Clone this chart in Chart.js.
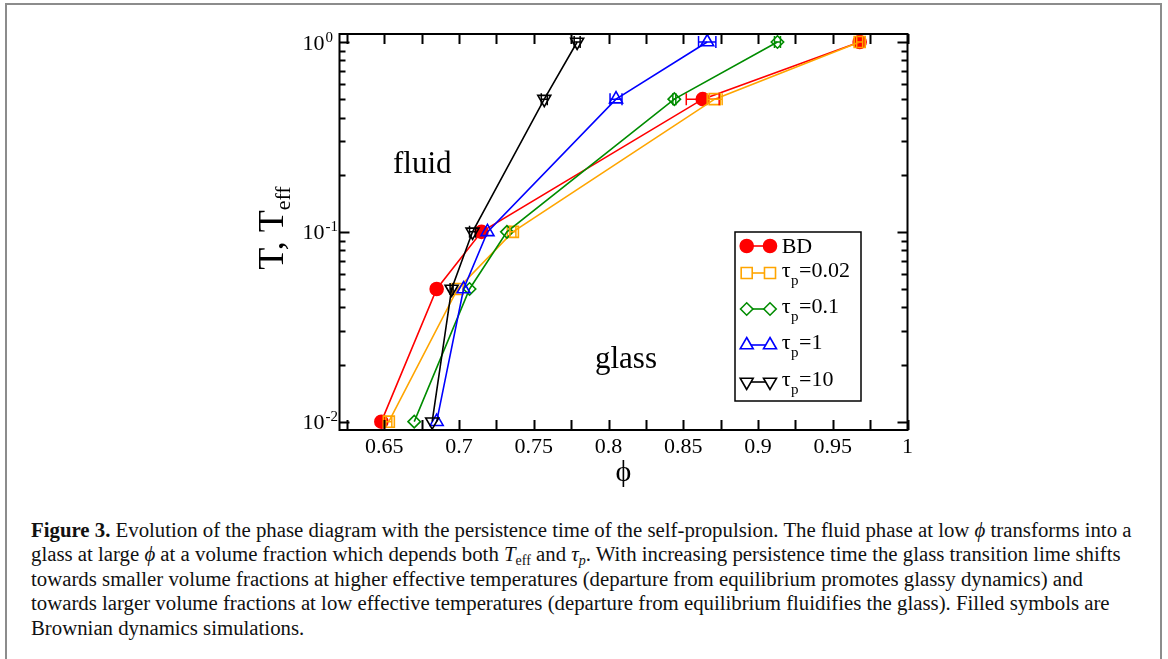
<!DOCTYPE html>
<html>
<head>
<meta charset="utf-8">
<script src="https://cdn.jsdelivr.net/npm/chart.js@4.4.0/dist/chart.umd.min.js"></script>
<style>
  body { margin: 0; background: #fff; width: 1168px; height: 659px; overflow: hidden; position: relative; }
  #frame { position: absolute; left: 5px; top: 3px; width: 1153px; height: 700px; border: 2px solid #8c8c8c; border-bottom: none; }
  #chart { position: absolute; left: 0; top: 0; }
  #caption { position: absolute; left: 31px; top: 518px; font-family: "Liberation Serif", serif; font-size: 20.8px; line-height: 24.4px; color: #111; white-space: nowrap; }
  #caption div { height: 24.4px; }
  #caption sub { font-size: 14px; line-height: 0; vertical-align: -4px; }
</style>
</head>
<body>
<div id="frame"></div>
<canvas id="chart" width="1168" height="500"></canvas>
<div id="caption">
  <div><b>Figure 3.</b> Evolution of the phase diagram with the persistence time of the self-propulsion. The fluid phase at low <i>ϕ</i> transforms into a</div>
  <div>glass at large <i>ϕ</i> at a volume fraction which depends both <i>T</i><sub>eff</sub> and <i>τ<sub>p</sub></i>. With increasing persistence time the glass transition lime shifts</div>
  <div>towards smaller volume fractions at higher effective temperatures (departure from equilibrium promotes glassy dynamics) and</div>
  <div>towards larger volume fractions at low effective temperatures (departure from equilibrium fluidifies the glass). Filled symbols are</div>
  <div>Brownian dynamics simulations.</div>
</div>
<script>
// ── data ──
const tempLevels = [0.01, 0.05, 0.1, 0.5, 1];

const phiBD     = [0.648, 0.685, 0.715, 0.863, 0.968];
const phiTau002 = [0.653, 0.699, 0.736, 0.871, 0.968];
const phiTau01  = [0.670, 0.707, 0.732, 0.844, 0.913];
const phiTau1   = [0.685, 0.703, 0.719, 0.805, 0.866];
const phiTau10  = [0.682, 0.695, 0.709, 0.757, 0.779];

// horizontal error bars (half widths in phi)
const errBD     = [0, 0, 0, 0.011, 0.002];
const errTau002 = [0.002, 0, 0.002, 0.005, 0.002];
const errTau01  = [0, 0, 0, 0.001, 0.002];
const errTau1   = [0, 0, 0, 0.004, 0.0058];
const errTau10  = [0, 0.001, 0.002, 0.002, 0.002];

const seriesNames = ['BD', '0.02', '0.1', '1', '10'];

const xTickLabels = ['0.65', '0.7', '0.75', '0.8', '0.85', '0.9', '0.95', '1'];
const yTickValues = [0.01, 0.1, 1];
const yTickExponents = ['-2', '-1', '0'];

// ── styles ──
const seriesStyles = [
    { color: '#ff0000', pointStyle: 'circle',   radius: 6.5, rotation: 0,   filled: true  },
    { color: '#ffa500', pointStyle: 'rect',     radius: 7.8, rotation: 0,   filled: false },
    { color: '#008c00', pointStyle: 'rectRot',  radius: 6.2, rotation: 0,   filled: false },
    { color: '#0000ff', pointStyle: 'triangle', radius: 7.5, rotation: 0,   filled: false },
    { color: '#000000', pointStyle: 'triangle', radius: 7.5, rotation: 180, filled: false }
];
const seriesPhi = [phiBD, phiTau002, phiTau01, phiTau1, phiTau10];
const seriesErr = [errBD, errTau002, errTau01, errTau1, errTau10];

const serif = '"Liberation Serif", "DejaVu Serif", serif';

const datasets = seriesNames.map((name, i) => {
    const st = seriesStyles[i];
    return {
        label: name,
        data: tempLevels.map((t, j) => ({ x: seriesPhi[i][j], y: t })),
        borderColor: st.color,
        borderWidth: 1.6,
        tension: 0,
        pointStyle: st.pointStyle,
        pointRadius: st.radius,
        pointRotation: st.rotation,
        pointBorderWidth: 1.6,
        pointBorderColor: st.color,
        pointBackgroundColor: st.filled ? st.color : 'rgba(0,0,0,0)',
        order: seriesNames.length - i   // later sets on top
    };
});

// ── error bars ──
const errorBars = {
    id: 'errorBars',
    afterDatasetsDraw(chart) {
        const ctx = chart.ctx, xs = chart.scales.x, ys = chart.scales.y;
        ctx.save();
        ctx.lineWidth = 1.5;
        seriesPhi.forEach((phis, i) => {
            ctx.strokeStyle = seriesStyles[i].color;
            phis.forEach((p, j) => {
                const e = seriesErr[i][j];
                if (!e) return;
                const y = ys.getPixelForValue(tempLevels[j]);
                const x1 = xs.getPixelForValue(p - e), x2 = xs.getPixelForValue(p + e);
                ctx.beginPath();
                ctx.moveTo(x1, y); ctx.lineTo(x2, y);
                ctx.moveTo(x1, y - 6); ctx.lineTo(x1, y + 6);
                ctx.moveTo(x2, y - 6); ctx.lineTo(x2, y + 6);
                ctx.stroke();
            });
        });
        ctx.restore();
    }
};

// ── frame, ticks, labels, legend ──
const decorations = {
    id: 'decorations',
    afterDraw(chart) {
        const ctx = chart.ctx, a = chart.chartArea;
        const xs = chart.scales.x, ys = chart.scales.y;
        ctx.save();
        ctx.strokeStyle = '#000';
        ctx.fillStyle = '#000';
        ctx.lineWidth = 2;
        ctx.strokeRect(a.left, a.top, a.right - a.left, a.bottom - a.top);

        // x ticks (inward, top and bottom)
        ctx.beginPath();
        for (let v = 0.625; v < 1.0001; v += 0.025) {
            const px = Math.round(xs.getPixelForValue(v)) + 0.5;
            ctx.moveTo(px, a.bottom); ctx.lineTo(px, a.bottom - 10);
            ctx.moveTo(px, a.top); ctx.lineTo(px, a.top + 10);
        }
        // y ticks (inward, left and right)
        for (let k = -3; k <= 0; k++) {
            for (let m = 1; m <= 9; m++) {
                const v = m * Math.pow(10, k);
                if (v < ys.min || v > ys.max) continue;
                const len = m === 1 ? 10 : 6;
                const py = Math.round(ys.getPixelForValue(v)) + 0.5;
                ctx.moveTo(a.left, py); ctx.lineTo(a.left + len, py);
                ctx.moveTo(a.right, py); ctx.lineTo(a.right - len, py);
            }
        }
        ctx.stroke();

        // x tick labels
        ctx.font = '22px ' + serif;
        ctx.textAlign = 'center';
        ctx.textBaseline = 'alphabetic';
        xTickLabels.forEach(l => {
            ctx.fillText(l, xs.getPixelForValue(parseFloat(l)), 453);
        });

        // y tick labels 10^n
        yTickValues.forEach((v, i) => {
            const py = ys.getPixelForValue(v);
            ctx.font = '22px ' + serif;
            ctx.textAlign = 'right';
            ctx.fillText('10', 324.5, py + 7.5);
            ctx.font = '15px ' + serif;
            ctx.textAlign = 'left';
            ctx.fillText(yTickExponents[i], 325.5, py - 0.5);
        });

        // axis titles
        ctx.font = '30px ' + serif;
        ctx.textAlign = 'center';
        ctx.textBaseline = 'middle';
        ctx.fillText('\u03D5', (a.left + a.right) / 2, 473);

        ctx.save();
        ctx.translate(283, 228);
        ctx.rotate(-Math.PI / 2);
        ctx.textBaseline = 'alphabetic';
        ctx.textAlign = 'left';
        ctx.font = '36px ' + serif;
        const w1 = ctx.measureText('T, T').width;
        ctx.font = '22px ' + serif;
        const w2 = ctx.measureText('eff').width;
        ctx.font = '36px ' + serif;
        ctx.fillText('T, T', -(w1 + w2) / 2, 0);
        ctx.font = '22px ' + serif;
        ctx.fillText('eff', -(w1 + w2) / 2 + w1, 7);
        ctx.restore();

        // region labels
        ctx.font = '31px ' + serif;
        ctx.textAlign = 'left';
        ctx.textBaseline = 'alphabetic';
        ctx.fillText('fluid', 393, 173);
        ctx.fillText('glass', 595, 368);

        // legend
        const lx = 735, ly = 232, lw = 126, lh = 169;
        const rowOffsets = [14, 41, 77, 113, 150];
        ctx.fillStyle = '#fff';
        ctx.fillRect(lx, ly, lw, lh);
        ctx.lineWidth = 1.5;
        ctx.strokeStyle = '#000';
        ctx.strokeRect(lx, ly, lw, lh);
        seriesNames.forEach((name, i) => {
            const st = seriesStyles[i];
            const y = ly + rowOffsets[i];
            const m1 = 746.7, m2 = 770;
            ctx.strokeStyle = st.color;
            ctx.lineWidth = 1.6;
            ctx.beginPath();
            ctx.moveTo(m1, y); ctx.lineTo(m2, y);
            ctx.stroke();
            ctx.fillStyle = st.filled ? st.color : '#fff';
            [m1, m2].forEach(mx => {
                Chart.helpers.drawPoint(ctx, {
                    pointStyle: st.pointStyle, radius: st.radius,
                    rotation: st.rotation, borderWidth: 1.6
                }, mx, y);
            });
            ctx.fillStyle = '#000';
            let tx = 781.7;
            if (name === 'BD') {
                ctx.font = '22px ' + serif;
                ctx.fillText(name, tx, y + 7);
            } else {
                ctx.font = '22px ' + serif;
                ctx.fillText('\u03C4', tx, y + 4);
                tx += ctx.measureText('\u03C4').width + 0.5;
                ctx.font = '15px ' + serif;
                ctx.fillText('p', tx, y + 12);
                tx += ctx.measureText('p').width + 0.5;
                ctx.font = '22px ' + serif;
                ctx.fillText('=' + name, tx, y + 4);
            }
        });
        ctx.restore();
    }
};

new Chart(document.getElementById('chart'), {
    type: 'line',
    data: { datasets },
    options: {
        responsive: false,
        animation: false,
        devicePixelRatio: 1,
        layout: { padding: { left: 339.5, right: 260.5, top: 34, bottom: 70 } },
        plugins: { legend: { display: false }, tooltip: { enabled: false } },
        scales: {
            x: { type: 'linear', min: 0.62, max: 1.0, display: false },
            y: { type: 'logarithmic', min: 0.00904, max: 1.102, display: false }
        }
    },
    plugins: [errorBars, decorations]
});
</script>
</body>
</html>
